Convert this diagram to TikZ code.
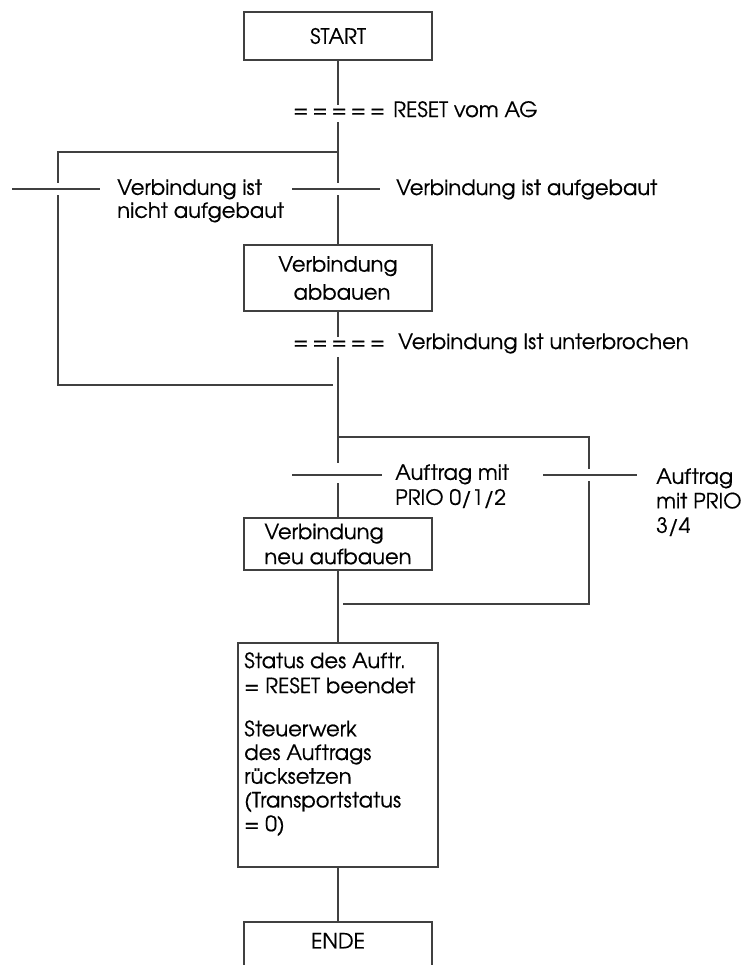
\documentclass[tikz,border=0pt]{standalone}
\usepackage{fontspec}
\setmainfont{TeX Gyre Adventor}[FakeBold=0.5]
\begin{document}
\begin{tikzpicture}[x=0.75pt,y=-0.75pt,
  wire/.style={draw=black!75,line width=0.8pt},
  stepbox/.style={draw=black!75,line width=0.8pt,inner sep=0pt,minimum width=141pt},
  txt/.style={font=\fontsize{15.8}{#1}\selectfont},
  txt/.default=17.5pt,
  lbl/.style={txt=#1,anchor=north west,inner sep=0pt,align=left},
  lbl/.default=17.5pt,
  eqs/.style={txt,anchor=base west,inner sep=0pt}]
\useasboundingbox (0,0) rectangle (741,965);
\clip (0,0) rectangle (741,965);

% ---- steps ----
\node[stepbox,minimum height=36pt,txt] (start) at (338,36) {START};
\node[stepbox,minimum height=49.5pt,txt=21pt,align=center] (abbau) at (338,278) {Verbindung\\ \hspace*{6pt}abbauen};
\node[stepbox,minimum height=39pt,txt=18.75pt,align=left] (neu) at (338,544) {Verbindung\\neu aufbauen};
\node[stepbox,minimum width=150pt,minimum height=168pt] (status) at (338,755) {};
\node[lbl=17.8pt] (statustext) at (244,652) {Status des Auftr.\\[1pt]= RESET beendet\\[14.5pt]Steuerwerk\\des Auftrags\\rücksetzen\\(Transportstatus\\= 0)};
\node[stepbox,minimum height=36pt,txt,text depth=8pt] (ende) at (338,946) {ENDE};

% ---- junction points on the flow lines ----
\coordinate (t1top) at (338,105);
\coordinate (t1bot) at (338,122);
\coordinate (splitL) at (338,152);
\coordinate (t2top) at (338,183);
\coordinate (t2bot) at (338,195);
\coordinate (lt2top) at (58,183);
\coordinate (lt2bot) at (58,195);
\coordinate (mergeL) at (333,385);
\coordinate (t3top) at (338,337);
\coordinate (t3bot) at (338,357);
\coordinate (splitR) at (338,437);
\coordinate (t4top) at (338,463);
\coordinate (t4bot) at (338,483);
\coordinate (rt4top) at (589,469);
\coordinate (rt4bot) at (589,481);
\coordinate (mergeR) at (343,604);
\coordinate (k1) at (338,410);
\coordinate (k2) at (338,422);

% ---- flow lines ----
\draw[wire] (start.south) -- (t1top);
\draw[wire] (t1bot) -- (t2top);
\draw[wire] (t2bot) -- (abbau.north);
\draw[wire] (splitL) -| (lt2top);
\draw[wire] (lt2bot) |- (mergeL);
\draw[wire] (abbau.south) -- (t3top);
\draw[wire] (t3bot) -- (t4top);
\draw[wire,line width=1.5pt] (k1) -- (k2);
\draw[wire] (splitR) -| (rt4top);
\draw[wire] (rt4bot) |- (mergeR);
\draw[wire] (t4bot) -- (neu.north);
\draw[wire] (neu.south) -- (status.north);
\draw[wire] (status.south) -- (ende.north);

% ---- transition bars ----
\coordinate (b2a) at (12,189);  \coordinate (b2b) at (100,189);
\coordinate (b2c) at (292,189); \coordinate (b2d) at (380,189);
\coordinate (b4a) at (292,475); \coordinate (b4b) at (382,475);
\coordinate (b4c) at (543,475); \coordinate (b4d) at (637,475);
\draw[wire] (b2a) -- (b2b);
\draw[wire] (b2c) -- (b2d);
\draw[wire] (b4a) -- (b4b);
\draw[wire] (b4c) -- (b4d);

% ---- transition conditions ----
\node[eqs] (eq1) at (293,117) {=\hspace{3pt}=\hspace{3pt}=\hspace{3pt}=\hspace{3pt}=};
\node[eqs] (c1) at (393,117) {RESET vom AG};
\node[lbl=17.25pt] (c2l) at (117,179) {Verbindung ist\\nicht aufgebaut};
\node[eqs] (c2r) at (396,195) {Verbindung ist aufgebaut};
\node[eqs] (eq3) at (293,349) {=\hspace{3pt}=\hspace{3pt}=\hspace{3pt}=\hspace{3pt}=};
\node[eqs] (c3) at (398,349) {Verbindung Ist unterbrochen};
\node[lbl=18.75pt] (c4l) at (395,464) {Auftrag mit\\PRIO 0/1/2};
\node[lbl=18.4pt] (c4r) at (656,468) {Auftrag\\mit PRIO\\3/4};
\end{tikzpicture}
\end{document}
